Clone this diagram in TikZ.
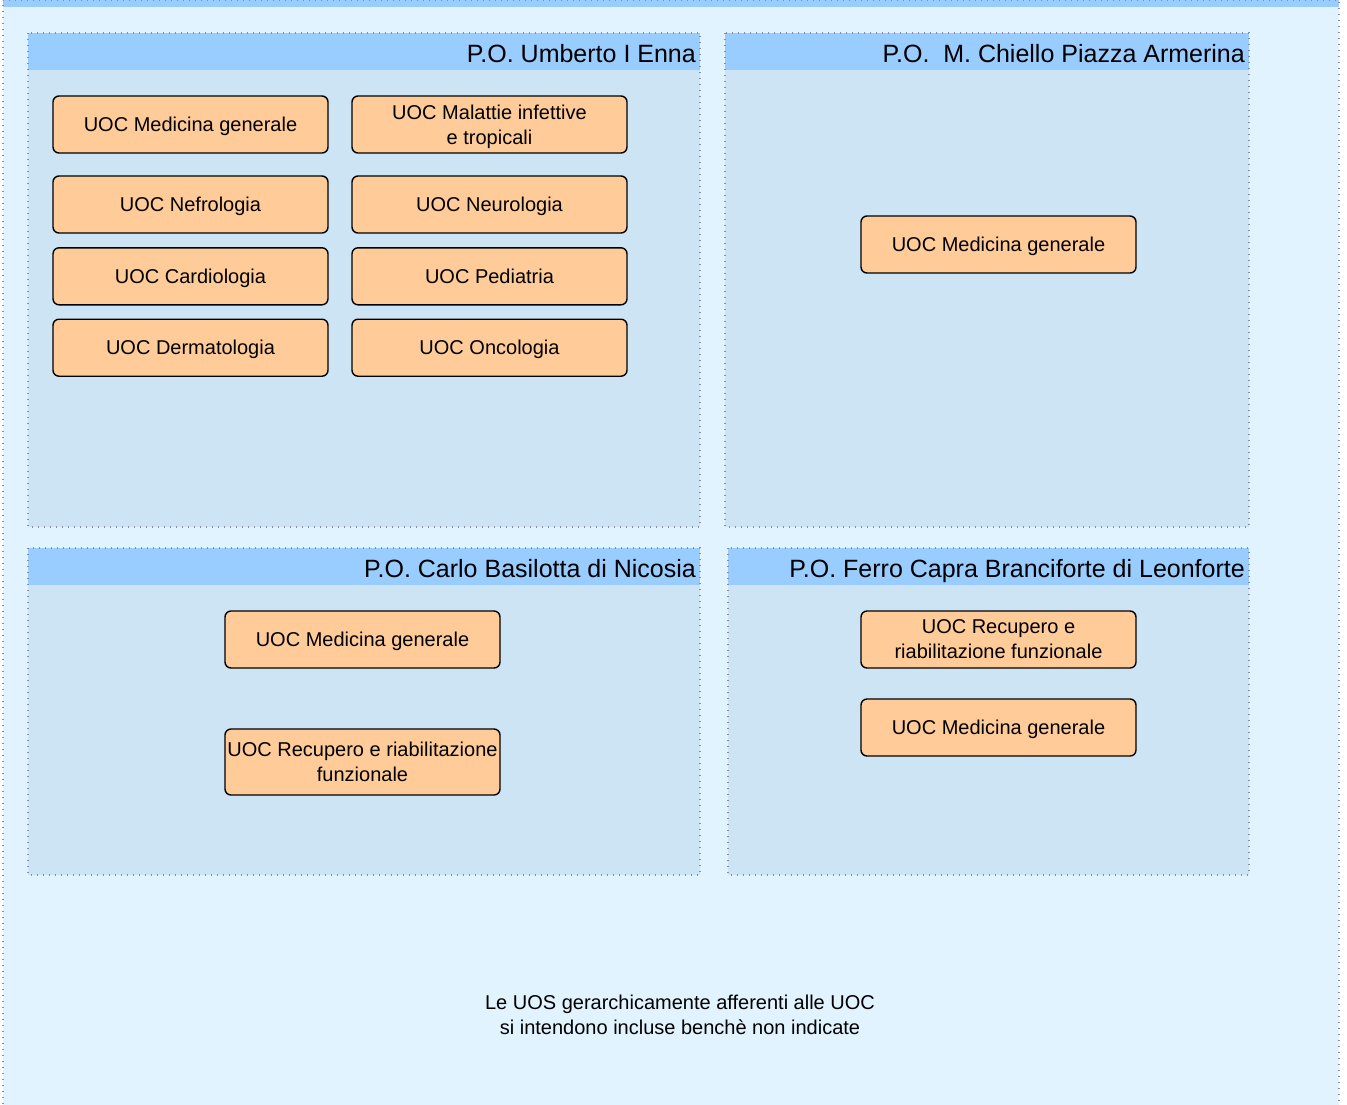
\documentclass[tikz,border=0pt]{standalone}
\usepackage{fontspec}
\setmainfont{Liberation Sans}
\usetikzlibrary{positioning}

\definecolor{outerfill}{HTML}{E1F3FE}
\definecolor{headfill}{HTML}{99CCFF}
\definecolor{panelfill}{HTML}{CCE4F4}
\definecolor{uocfill}{HTML}{FFCC99}
\definecolor{dotline}{HTML}{8A8AAE}

\begin{document}
\begin{tikzpicture}[
x=1pt, y=-1pt,
panel/.style={fill=panelfill},
headbar/.style={fill=headfill},
border/.style={draw=dotline, line width=1.3pt, dash pattern=on 1.3pt off 4.7pt},
uoc/.style={rectangle, draw, line width=1.4pt, rounded corners=6pt, fill=uocfill, minimum width=275pt, minimum height=57pt, align=center, inner sep=1pt, text depth=0pt, font=\fontsize{20}{25}\selectfont},
title/.style={anchor=east, inner sep=2pt, text depth=0pt, font=\fontsize{25}{30}\selectfont},
note/.style={align=center, font=\fontsize{20}{25}\selectfont}
]
\useasboundingbox (0,0) rectangle (1347,1104);

% outer container
\fill[outerfill] (3,0) rectangle (1339,1110);
\fill[headfill] (3,0) rectangle (1339,7);
\draw[border] (3,1110) -- (3,0) -- (1339,0) -- (1339,1110);

% P.O. Umberto I Enna
\fill[panel] (28,33) rectangle (700,527);
\fill[headbar] (28,33) rectangle (700,70);
\draw[border] (28,33) rectangle (700,527);
\node[title] (enna) at (698,53) {P.O. Umberto I Enna};

% P.O. M. Chiello Piazza Armerina
\fill[panel] (725,33) rectangle (1249,527);
\fill[headbar] (725,33) rectangle (1249,70);
\draw[border] (725,33) rectangle (1249,527);
\node[title] (piazza) at (1247,53) {P.O.\ \ M. Chiello Piazza Armerina};

% P.O. Carlo Basilotta di Nicosia
\fill[panel] (28,548) rectangle (700,875);
\fill[headbar] (28,548) rectangle (700,585);
\draw[border] (28,548) rectangle (700,875);
\node[title] (nicosia) at (698,568) {P.O. Carlo Basilotta di Nicosia};

% P.O. Ferro Capra Branciforte di Leonforte
\fill[panel] (728,548) rectangle (1249,875);
\fill[headbar] (728,548) rectangle (1249,585);
\draw[border] (728,548) rectangle (1249,875);
\node[title] (leonforte) at (1247,568) {P.O. Ferro Capra Branciforte di Leonforte};

% UOC of Enna
\node[uoc] (ennamed) at (190.5,124.5) {UOC Medicina generale};
\node[uoc, right=22.6pt of ennamed] (ennamal) {UOC Malattie infettive\\e tropicali};
\node[uoc, below=21.6pt of ennamed] (ennanef) {UOC Nefrologia};
\node[uoc, below=21.6pt of ennamal] (ennaneu) {UOC Neurologia};
\node[uoc, below=13.4pt of ennanef] (ennacar) {UOC Cardiologia};
\node[uoc, below=13.4pt of ennaneu] (ennaped) {UOC Pediatria};
\node[uoc, below=13pt of ennacar] (ennader) {UOC Dermatologia};
\node[uoc, below=13pt of ennaped] (ennaonc) {UOC Oncologia};

% UOC of Piazza Armerina
\node[uoc] (piazzamed) at (998.5,244.5) {UOC Medicina generale};

% UOC of Nicosia
\node[uoc] (nicosiamed) at (362.5,639.5) {UOC Medicina generale};
\node[uoc, minimum height=66pt] (nicosiarec) at (362.5,762) {UOC Recupero e riabilitazione\\funzionale};

% UOC of Leonforte
\node[uoc] (leonfortrec) at (998.5,639.5) {UOC Recupero e\\riabilitazione funzionale};
\node[uoc, below=29.6pt of leonfortrec] (leonfortmed) {UOC Medicina generale};

\node[note] (uosnote) at (680,1015) {Le UOS gerarchicamente afferenti alle UOC\\si intendono incluse bench\`e non indicate};

\end{tikzpicture}
\end{document}
